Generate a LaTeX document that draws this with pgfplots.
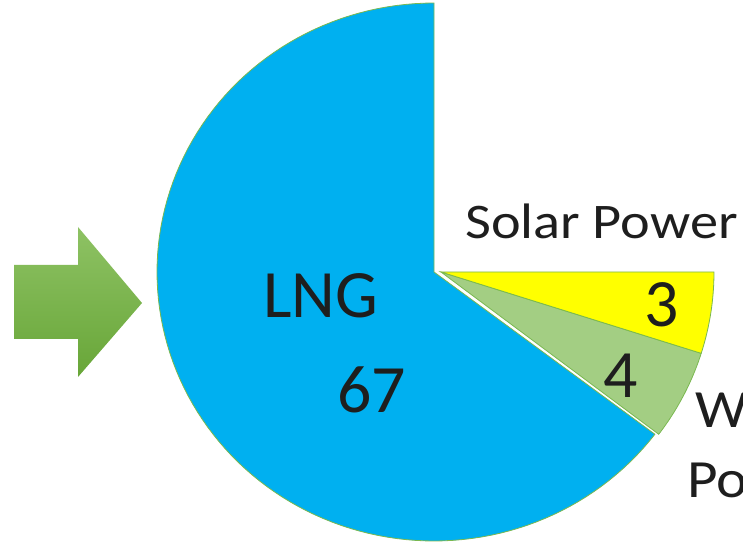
\documentclass[border=0pt]{standalone}
\usepackage{pgfplots}
\pgfplotsset{compat=1.18}
\usepackage{fontspec}
\setmainfont{Carlito}

\definecolor{lng}{RGB}{0,176,240}
\definecolor{solar}{RGB}{255,255,0}
\definecolor{wind}{RGB}{163,206,131}
\definecolor{edge}{RGB}{122,184,80}
\definecolor{arrowtop}{RGB}{142,194,100}
\definecolor{arrowbot}{RGB}{104,166,56}
\definecolor{txt}{RGB}{30,30,30}

\begin{document}
\begin{tikzpicture}
\useasboundingbox (0,0) rectangle (743bp,544bp);
\begin{axis}[
  at={(0,0)}, anchor=south west, scale only axis,
  x=1bp, y=1bp, xmin=0, xmax=743, ymin=0, ymax=544,
  hide axis, clip=false,
]
% Arrow
\addplot[draw=none, top color=arrowtop, bottom color=arrowbot]
  coordinates {(14,279) (78,279) (78,317) (142,241) (78,167) (78,205) (14,205)} -- cycle;

% LNG slice: 67 (angles 90 -> 322.9 deg)
\addplot[fill=lng, draw=edge, line width=0.8bp, domain=90:322.9, samples=120, variable=\t]
  ({434+277*cos(\t)}, {272+269*sin(\t)}) -- (axis cs:434,272) -- cycle;
% Wind slice: 4 (angles -37.1 -> -17.6)
\addplot[fill=wind, draw=edge, line width=0.8bp, domain=-37.1:-17.6, samples=30, variable=\t]
  ({441+273*cos(\t)}, {272+269*sin(\t)}) -- (axis cs:441,272) -- cycle;
% Solar slice: 3 (angles -17.6 -> 0)
\addplot[fill=solar, draw=edge, line width=0.8bp, domain=-17.6:0, samples=30, variable=\t]
  ({441+273*cos(\t)}, {272+269*sin(\t)}) -- (axis cs:441,272) -- cycle;

\node[anchor=base west, inner sep=0pt, text=txt] at (axis cs:263,227) {\fontsize{68}{80}\selectfont LNG};
\node[anchor=base west, inner sep=0pt, text=txt] at (axis cs:337,132) {\fontsize{68}{80}\selectfont 67};
\node[anchor=base west, inner sep=0pt, text=txt] at (axis cs:644,218) {\fontsize{68}{80}\selectfont 3};
\node[anchor=base west, inner sep=0pt, text=txt] at (axis cs:603,147) {\fontsize{68}{80}\selectfont 4};
\node[anchor=base west, inner sep=0pt, text=txt, xscale=1.13] at (axis cs:465,306) {\fontsize{50}{60}\selectfont Solar Power};
\node[anchor=base west, inner sep=0pt, text=txt, xscale=1.1] at (axis cs:695,117) {\fontsize{54}{60}\selectfont Wind};
\node[anchor=base west, inner sep=0pt, text=txt, xscale=1.1] at (axis cs:687,47) {\fontsize{54}{60}\selectfont Power};
\end{axis}
\end{tikzpicture}
\end{document}
